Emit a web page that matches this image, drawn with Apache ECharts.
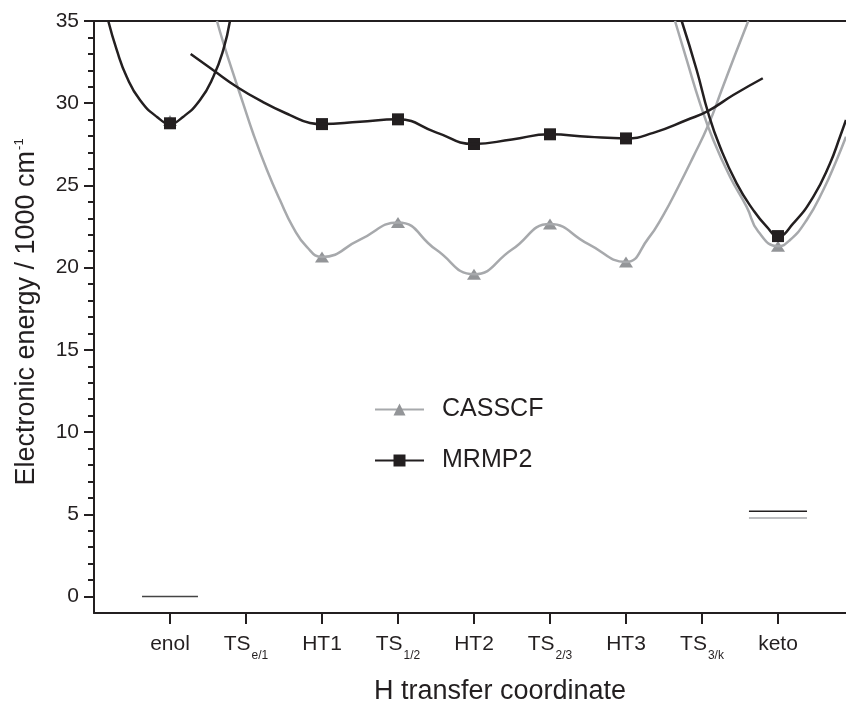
<!DOCTYPE html>
<html>
<head>
<meta charset="utf-8">
<title>H transfer coordinate</title>
<script src="https://cdn.jsdelivr.net/npm/echarts@6.0.0/dist/echarts.min.js"></script>
<style>
  html, body { margin: 0; padding: 0; background: #fff; }
  #main { width: 846px; height: 701px; }
</style>
</head>
<body>
<div id="main"></div>
<script>
// category positions 1..9 on the coordinate axis
const categories = ["enol", "TS", "HT1", "TS", "HT2", "TS", "HT3", "TS", "keto"];
const subscripts = ["", "e/1", "", "1/2", "", "2/3", "", "3/k", ""];
const catValues = [1, 2, 3, 4, 5, 6, 7, 8, 9];
const majorTicks = [0, 5, 10, 15, 20, 25, 30, 35];
const minorTicks = [1, 2, 3, 4, 6, 7, 8, 9, 11, 12, 13, 14, 16, 17, 18, 19,
  21, 22, 23, 24, 26, 27, 28, 29, 31, 32, 33, 34];

// computed points (markers)
const casscfPoints = [[1, 28.95], [3, 20.65], [4, 22.75], [5, 19.6], [6, 22.65], [7, 20.35], [9, 21.3]];
const mrmp2Points = [[1, 28.78], [3, 28.73], [4, 29.02], [5, 27.52], [6, 28.11], [7, 27.86], [9, 21.92]];

// CASSCF curves
const casscfPath = [
  [1.618, 35.0], [1.697, 33.75], [1.829, 31.84], [1.961, 30.01], [2.092, 28.19],
  [2.276, 25.94], [2.447, 24.11], [2.618, 22.47], [2.803, 21.25],
  [3, 20.65], [3.5, 21.7], [4, 22.75], [4.5, 21.1], [5, 19.6], [5.5, 21.1],
  [6, 22.65], [6.5, 21.45], [7, 20.35], [7.294, 21.78],
  [7.491, 23.2], [7.689, 24.92], [7.886, 26.75], [8.083, 28.67], [8.259, 30.8],
  [8.434, 32.93], [8.609, 35.0]
];
const casscfKeto = [
  [7.645, 35.0], [7.799, 32.63], [7.974, 29.99], [8.149, 27.76], [8.368, 25.53],
  [8.588, 23.7], [8.74, 22.2], [9, 21.3], [9.158, 21.68],
  [9.378, 22.9], [9.596, 24.72], [9.772, 26.55], [9.895, 27.96]
];

// MRMP2 curves
const mrmp2Enol = [
  [0.188, 35.0], [0.299, 33.24], [0.43, 31.61], [0.605, 30.19], [0.825, 29.18],
  [1, 28.78], [1.175, 29.18], [1.395, 30.19], [1.57, 31.61], [1.701, 33.24], [1.789, 35.0]
];
const mrmp2Path = [
  [1.272, 32.99], [1.566, 32.02], [1.882, 30.99], [2.224, 30.07], [2.579, 29.28],
  [2.842, 28.8], [3, 28.73], [3.5, 28.88], [4, 29.02], [4.5, 28.23], [5, 27.52],
  [5.5, 27.8], [6, 28.11], [6.5, 27.96], [7, 27.86], [7.359, 28.2], [7.799, 28.98],
  [8.083, 29.54], [8.412, 30.5], [8.8, 31.52]
];
const mrmp2Keto = [
  [7.733, 35.0], [7.93, 32.02], [8.083, 29.39], [8.237, 27.35], [8.456, 25.13],
  [8.675, 23.5], [8.851, 22.49], [9, 21.92], [9.201, 22.69], [9.464, 24.31],
  [9.684, 26.34], [9.816, 27.96], [9.895, 28.98]
];

// zero-point levels (short bars)
const enolLevel = [[0.632, 0], [1.368, 0]];
const ketoLevelMrmp2 = [[8.618, 5.19], [9.382, 5.19]];
const ketoLevelCasscf = [[8.618, 4.77], [9.382, 4.77]];

const ink = "#231f20";
const grey = "#a7a9ac";
const greyMark = "#939598";
const font = "'Liberation Sans', Arial, sans-serif";

function curve(name, data, color) {
  return {
    name: name, type: "line", data: data, smooth: 0.5,
    showSymbol: false, symbol: "none", clip: true,
    lineStyle: { color: color, width: 2.5 },
    itemStyle: { color: color }
  };
}

const chartDom = document.getElementById("main");
const myChart = echarts.init(chartDom, null, { renderer: "canvas" });

const option = {
  animation: false,
  backgroundColor: "#fff",
  textStyle: { fontFamily: font, color: ink },
  grid: { left: 94, right: 0, top: 21, bottom: 88, outerBoundsMode: "none" },
  legend: {
    data: ["CASSCF", "MRMP2"],
    orient: "vertical",
    left: 369,
    top: 392,
    itemWidth: 49,
    itemHeight: 15,
    itemGap: 26,
    selectedMode: false,
    formatter: (name) => "{t|" + name + "}",
    textStyle: {
      color: ink,
      fontFamily: font,
      rich: { t: { fontSize: 25, fontFamily: font, color: ink, padding: [0, 0, 0, 13], lineHeight: 26 } }
    }
  },
  xAxis: [
    {
      type: "value", min: 0, max: 9.895, position: "bottom",
      axisLine: { onZero: false, lineStyle: { color: ink, width: 2 } },
      axisTick: { customValues: catValues, length: 11, lineStyle: { color: ink, width: 2 } },
      axisLabel: {
        customValues: catValues, margin: 21, color: ink,
        formatter: (v) => {
          const i = Math.round(v) - 1;
          return "{a|" + categories[i] + "}" + (subscripts[i] ? "{s|" + subscripts[i] + "}" : "");
        },
        rich: {
          a: { fontSize: 21, fontFamily: font, color: ink, lineHeight: 24, verticalAlign: "top" },
          s: { fontSize: 12, fontFamily: font, color: ink, lineHeight: 12, verticalAlign: "top", padding: [16, 0, 0, 1] }
        }
      },
      splitLine: { show: false },
      name: "H transfer coordinate",
      nameLocation: "middle",
      nameGap: 65,
      nameTextStyle: { fontSize: 27, fontFamily: font, color: ink, padding: [0, 0, 0, 60] }
    },
    {
      type: "value", min: 0, max: 9.895, position: "top",
      axisLine: { show: true, onZero: false, lineStyle: { color: ink, width: 2 } },
      axisTick: { show: false }, axisLabel: { show: false }, splitLine: { show: false }
    }
  ],
  yAxis: [
    {
      type: "value", min: -1, max: 35, position: "left",
      axisLine: { show: true, onZero: false, lineStyle: { color: ink, width: 2 } },
      axisTick: { customValues: majorTicks, length: 10, lineStyle: { color: ink, width: 2 } },
      axisLabel: { customValues: majorTicks, margin: 15, fontSize: 21, fontFamily: font, color: ink },
      splitLine: { show: false },
      name: "Electronic energy / 1000 cm{sup|-1}",
      nameLocation: "middle",
      nameGap: 54,
      nameTextStyle: {
        fontSize: 27, fontFamily: font, color: ink, padding: [0, 0, 0, 10],
        rich: { sup: { fontSize: 13, fontFamily: font, color: ink, padding: [0, 0, 14, 1] } }
      }
    },
    {
      type: "value", min: -1, max: 35, position: "left",
      axisLine: { show: false, onZero: false },
      axisTick: { customValues: minorTicks, length: 6, lineStyle: { color: ink, width: 2 } },
      axisLabel: { show: false }, splitLine: { show: false }
    }
  ],
  series: [
    curve("CASSCF", casscfPath, grey),
    curve("casscf-keto", casscfKeto, grey),
    {
      name: "casscf-level", type: "line", data: ketoLevelCasscf, symbol: "none",
      lineStyle: { color: grey, width: 1.5 }
    },
    {
      name: "casscf-pts", type: "scatter", data: casscfPoints, symbol: "triangle",
      symbolSize: [14, 11], itemStyle: { color: greyMark, opacity: 1 }
    },
    curve("MRMP2", mrmp2Path, ink),
    curve("mrmp2-enol", mrmp2Enol, ink),
    curve("mrmp2-keto", mrmp2Keto, ink),
    {
      name: "mrmp2-level", type: "line", data: ketoLevelMrmp2, symbol: "none",
      lineStyle: { color: ink, width: 1.5 }
    },
    {
      name: "enol-level", type: "line", data: enolLevel, symbol: "none",
      lineStyle: { color: "#444", width: 1.5 }
    },
    {
      name: "mrmp2-pts", type: "scatter", data: mrmp2Points, symbol: "rect",
      symbolSize: 12, itemStyle: { color: ink, opacity: 1 }
    }
  ]
};

// legend icons follow the line series, give them the markers too
option.series[0].symbol = "triangle";
option.series[0].itemStyle.color = greyMark;
option.series[4].symbol = "rect";

myChart.setOption(option);
</script>
</body>
</html>
